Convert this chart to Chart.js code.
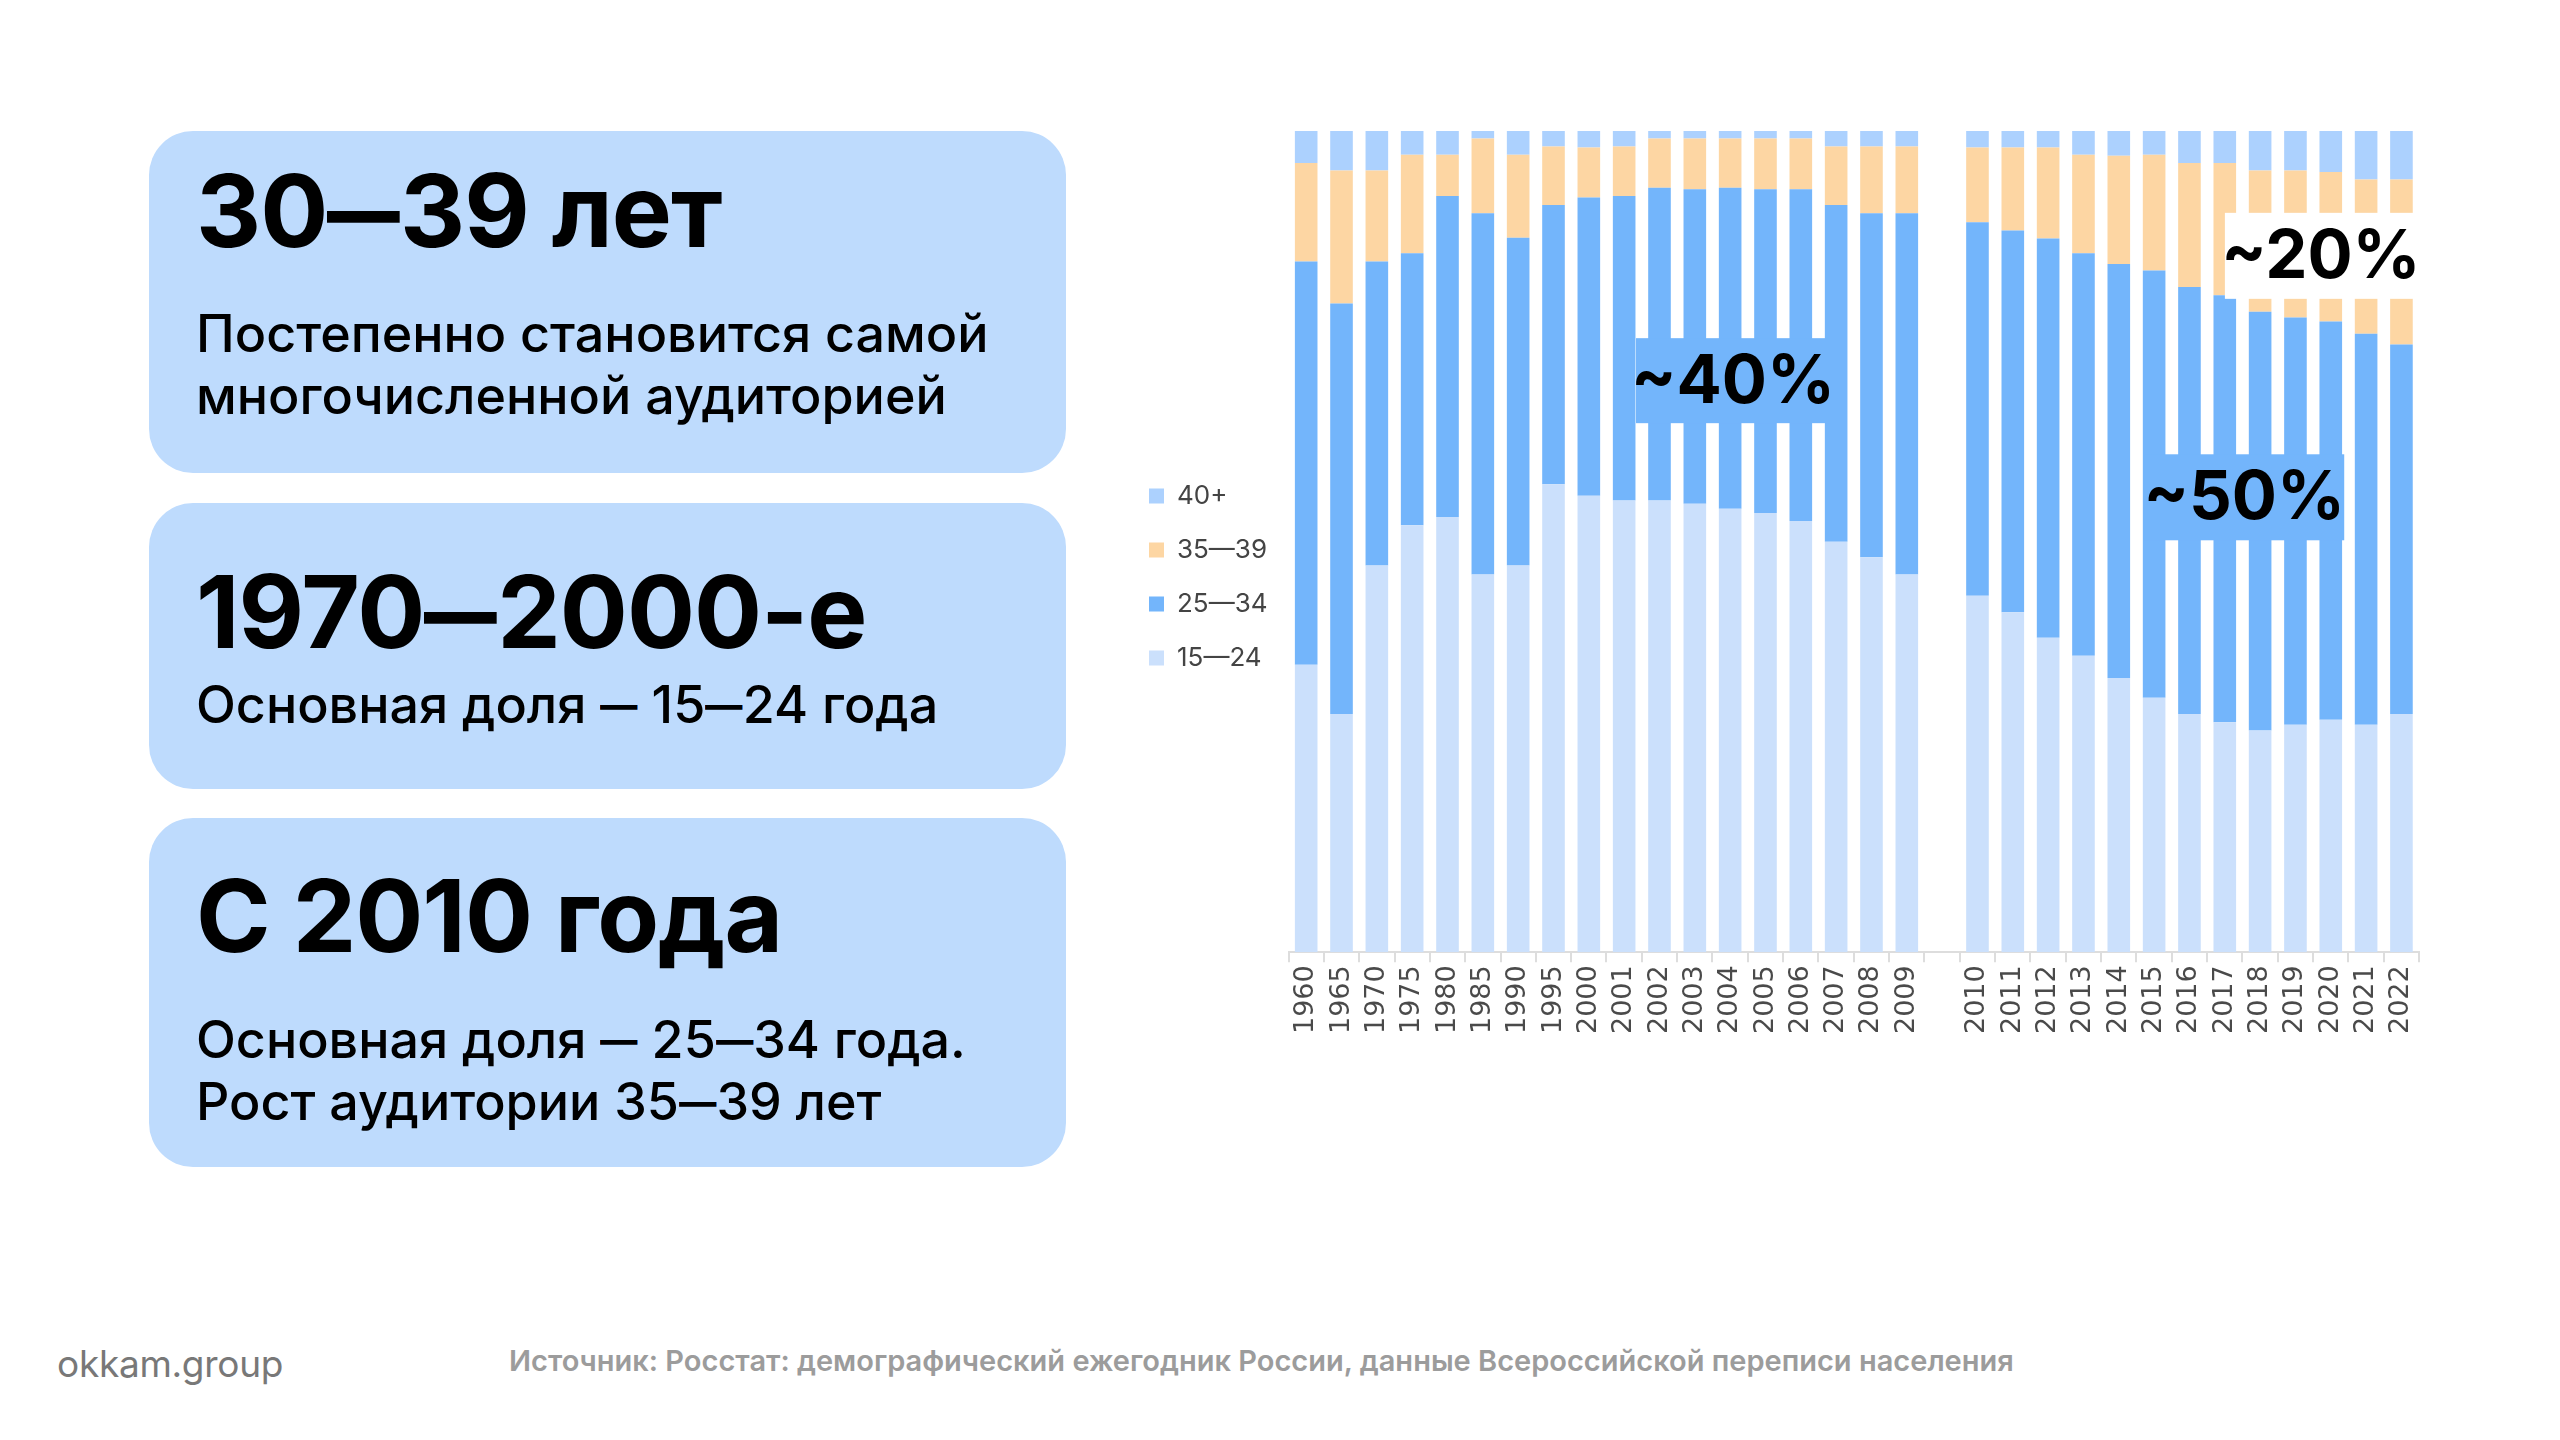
<!DOCTYPE html>
<html lang="ru">
<head>
<meta charset="utf-8">
<script src="https://cdn.jsdelivr.net/npm/chart.js@4.4.1/dist/chart.umd.min.js"></script>
<style>
  html, body { margin:0; padding:0; background:#fff; }
  body { width:2560px; height:1440px; position:relative; overflow:hidden; font-family:Inter, "Noto Sans", sans-serif; color:#000; }
  .card { position:absolute; left:149px; width:917px; background:#bedbfd; border-radius:44px; }
  .t { position:absolute; left:196px; font-weight:700; font-size:101px; line-height:1.2; letter-spacing:-1px; white-space:nowrap; }
  .s { position:absolute; left:196px; font-weight:500; font-size:52px; line-height:62px; letter-spacing:0; white-space:nowrap; }
  .d { display:inline-block; width:0.72em; }
  .d > span { display:inline-block; transform:scaleX(0.72); transform-origin:0 50%; }
  #chartBox { position:absolute; left:1121px; top:121px; width:1316px; height:936px; }
  .foot1 { position:absolute; left:57px; top:1341px; font-size:37px; color:#787878; font-weight:400; letter-spacing:-0.3px; }
  .foot2 { position:absolute; left:509px; top:1343px; font-size:29px; color:#9c9c9c; font-weight:600; white-space:nowrap; }
</style>
</head>
<body>
<div class="card" style="top:131px;height:342px;"></div>
<div class="card" style="top:503px;height:286px;"></div>
<div class="card" style="top:818px;height:349px;"></div>

<div class="t" style="top:150px;">30<span class="d"><span>—</span></span>39 лет</div>
<div class="s" style="top:303px;">Постепенно становится самой<br>многочисленной аудиторией</div>

<div class="t" style="top:551px;">1970<span class="d"><span>—</span></span>2000-е</div>
<div class="s" style="top:674px;">Основная доля <span class="d"><span>—</span></span> 15<span class="d"><span>—</span></span>24 года</div>

<div class="t" style="top:855px;">С 2010 года</div>
<div class="s" style="top:1009px;">Основная доля <span class="d"><span>—</span></span> 25<span class="d"><span>—</span></span>34 года.<br>Рост аудитории 35<span class="d"><span>—</span></span>39 лет</div>

<div id="chartBox"><canvas id="c"></canvas></div>

<div class="foot1">okkam.group</div>
<div class="foot2">Источник: Росстат: демографический ежегодник России, данные Всероссийской переписи населения</div>

<script>
const categories = ['1960','1965','1970','1975','1980','1985','1990','1995','2000','2001','2002','2003','2004','2005','2006','2007','2008','2009','',
  '2010','2011','2012','2013','2014','2015','2016','2017','2018','2019','2020','2021','2022'];

const seriesNames = ['15—24','25—34','35—39','40+'];

const s15_24 = [35.0,29.0,47.1,52.0,53.0,46.0,47.1,57.0,55.6,55.0,55.0,54.6,54.0,53.5,52.5,50.0,48.1,46.0,null,
  43.4,41.4,38.3,36.1,33.4,31.0,29.0,28.0,27.0,27.7,28.3,27.7,29.0];
const s25_34 = [49.1,50.0,37.0,33.1,39.1,44.0,39.9,34.0,36.3,37.1,38.1,38.3,39.1,39.4,40.4,41.0,41.9,44.0,null,
  45.5,46.5,48.6,49.0,50.4,52.0,52.0,52.0,51.0,49.6,48.5,47.6,45.0];
const s35_39 = [12.0,16.2,11.1,12.0,5.0,9.1,10.1,7.1,6.1,6.0,6.0,6.2,6.0,6.2,6.2,7.1,8.1,8.1,null,
  9.1,10.1,11.1,12.0,13.2,14.1,15.1,16.1,17.2,17.9,18.2,18.8,20.1];
const s40plus = [3.9,4.8,4.8,2.9,2.9,0.9,2.9,1.9,2.0,1.9,0.9,0.9,0.9,0.9,0.9,1.9,1.9,1.9,null,
  2.0,2.0,2.0,2.9,3.0,2.9,3.9,3.9,4.8,4.8,5.0,5.9,5.9];

const callouts = [
  { text:'~40%', at:12.08, value:69.6, w:194, h:85, bg:'#73b5fb' },
  { text:'~50%', at:26.55, value:55.4, w:200, h:86, bg:'#73b5fb' },
  { text:'~20%', at:28.72, value:84.8, w:192, h:86, bg:'#ffffff' }
];

const colors = ['#cbe0fc','#73b5fb','#fdd6a3','#acd1fe'];

const calloutPlugin = {
  id:'callouts',
  afterDatasetsDraw(chart){
    const {ctx, scales:{x,y}} = chart;
    ctx.save();
    callouts.forEach(c => {
      const i0 = Math.floor(c.at), f = c.at - i0;
      const px = x.getPixelForValue(i0) + f*(x.getPixelForValue(i0+1) - x.getPixelForValue(i0));
      const py = y.getPixelForValue(c.value);
      ctx.fillStyle = c.bg;
      ctx.fillRect(px - c.w/2, py - c.h/2, c.w, c.h);
      ctx.fillStyle = '#000';
      ctx.font = '700 67px Inter';
      ctx.textAlign = 'center';
      ctx.textBaseline = 'middle';
      ctx.fillText(c.text, px, py + 2);
    });
    ctx.restore();
  }
};

// widen the left legend a little and lift it slightly, as in the reference
const legendTweak = {
  id:'legendTweak',
  beforeLayout(chart){
    const l = chart.legend;
    if (l && !l._wrapped) {
      const f = l.fit;
      l.fit = function(){ f.call(this); this.width += 11; };
      l._wrapped = true;
    }
  },
  afterLayout(chart){
    const l = chart.legend;
    if (l) { l.top -= 7; l.bottom -= 7; }
  }
};

const data = {
  labels: categories,
  datasets: [
    { label: seriesNames[0], data: s15_24, backgroundColor: colors[0] },
    { label: seriesNames[1], data: s25_34, backgroundColor: colors[1] },
    { label: seriesNames[2], data: s35_39, backgroundColor: colors[2] },
    { label: seriesNames[3], data: s40plus, backgroundColor: colors[3] }
  ]
};

new Chart(document.getElementById('c'), {
  type:'bar',
  data,
  plugins:[calloutPlugin, legendTweak],
  options:{
    responsive:true,
    maintainAspectRatio:false,
    animation:false,
    layout:{ padding:{ top:10, right:10, bottom:20, left:0 } },
    datasets:{ bar:{ barPercentage:0.64, categoryPercentage:1.0 } },
    plugins:{
      tooltip:{ enabled:false },
      legend:{
        position:'left',
        reverse:true,
        labels:{
          boxWidth:15, boxHeight:15, padding:28,
          color:'#444', font:{ family:'Inter', size:26 }
        }
      }
    },
    scales:{
      x:{
        stacked:true,
        border:{ display:true, color:'#dddddd', width:2 },
        grid:{ offset:true, drawOnChartArea:false, drawTicks:true, tickLength:10, color:'#dddddd', lineWidth:2 },
        ticks:{ minRotation:90, maxRotation:90, autoSkip:false, padding:3, color:'#4a4a4a', font:{ family:'"DejaVu Sans", Verdana, sans-serif', size:27 } }
      },
      y:{ stacked:true, display:false, min:0, max:100 }
    }
  }
});
</script>
</body>
</html>
